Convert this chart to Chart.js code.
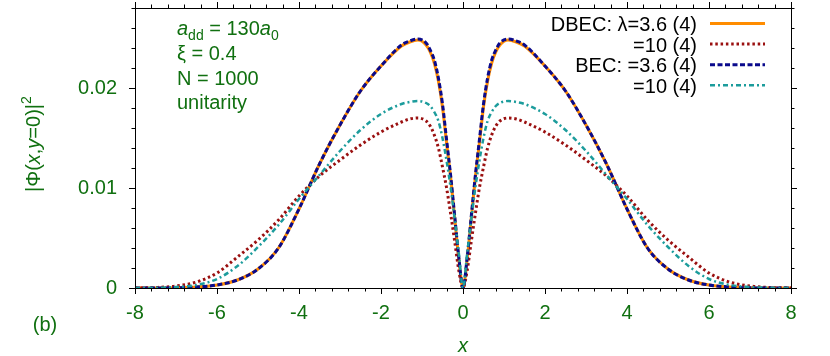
<!DOCTYPE html>
<html>
<head>
<meta charset="utf-8">
<script src="https://cdn.jsdelivr.net/npm/chart.js@4.4.1/dist/chart.umd.min.js"></script>
<style>
  html, body { margin: 0; padding: 0; background: #fff; }
</style>
</head>
<body>
<canvas id="densityChart" width="830" height="356"></canvas>
<script>
// x positions along the cut y=0
const xs = [-8, -7.5, -7, -6.5, -6, -5.5, -5, -4.5, -4, -3.5, -3, -2.5, -2, -1.5, -1.3, -1.1, -0.9, -0.8, -0.7, -0.6, -0.5, -0.4, -0.3, -0.2, -0.1,
            0,
            0.1, 0.2, 0.3, 0.4, 0.5, 0.6, 0.7, 0.8, 0.9, 1.1, 1.3, 1.5, 2, 2.5, 3, 3.5, 4, 4.5, 5, 5.5, 6, 6.5, 7, 7.5, 8];

// |Phi(x,y=0)|^2
const dbec36 = [0, 0, 0.00002, 0.0001, 0.0003, 0.0008, 0.0019, 0.0040, 0.0079, 0.0124, 0.0163, 0.0197, 0.0222, 0.0242, 0.0246, 0.0248, 0.0243, 0.0236, 0.0225, 0.0207, 0.0181, 0.0145, 0.0110, 0.0069, 0.0028,
                0,
                0.0028, 0.0069, 0.0110, 0.0145, 0.0181, 0.0207, 0.0225, 0.0236, 0.0243, 0.0248, 0.0246, 0.0242, 0.0222, 0.0197, 0.0163, 0.0124, 0.0079, 0.0040, 0.0019, 0.0008, 0.0003, 0.0001, 0.00002, 0, 0];
const dbec10 = [0, 0.00005, 0.0002, 0.0006, 0.0015, 0.0031, 0.0048, 0.0068, 0.0092, 0.0112, 0.0128, 0.0143, 0.0156, 0.0166, 0.0169, 0.0170, 0.0167, 0.0162, 0.0153, 0.0140, 0.0121, 0.0100, 0.0074, 0.0046, 0.0017,
                0,
                0.0017, 0.0046, 0.0074, 0.0100, 0.0121, 0.0140, 0.0153, 0.0162, 0.0167, 0.0170, 0.0169, 0.0166, 0.0156, 0.0143, 0.0128, 0.0112, 0.0092, 0.0068, 0.0048, 0.0031, 0.0015, 0.0006, 0.0002, 0.00005, 0];
const bec36 = [0, 0, 0.00002, 0.0001, 0.0003, 0.0008, 0.0019, 0.0040, 0.0079, 0.0124, 0.0163, 0.0197, 0.0222, 0.0243, 0.0247, 0.0249, 0.0245, 0.0238, 0.0228, 0.0210, 0.0184, 0.0148, 0.0112, 0.0071, 0.0030,
               0,
               0.0030, 0.0071, 0.0112, 0.0148, 0.0184, 0.0210, 0.0228, 0.0238, 0.0245, 0.0249, 0.0247, 0.0243, 0.0222, 0.0197, 0.0163, 0.0124, 0.0079, 0.0040, 0.0019, 0.0008, 0.0003, 0.0001, 0.00002, 0, 0];
const bec10 = [0, 0.00002, 0.0001, 0.0003, 0.0009, 0.0022, 0.0041, 0.0063, 0.0089, 0.0113, 0.0137, 0.0158, 0.0174, 0.0184, 0.0186, 0.0187, 0.0185, 0.0182, 0.0176, 0.0167, 0.0150, 0.0127, 0.0100, 0.0068, 0.0034,
               0,
               0.0034, 0.0068, 0.0100, 0.0127, 0.0150, 0.0167, 0.0176, 0.0182, 0.0185, 0.0187, 0.0186, 0.0184, 0.0174, 0.0158, 0.0137, 0.0113, 0.0089, 0.0063, 0.0041, 0.0022, 0.0009, 0.0003, 0.0001, 0.00002, 0];

const labels = ['DBEC: \u03bb=3.6 (4)', '=10 (4)', 'BEC: =3.6 (4)', '=10 (4)'];
const xTicks = [-8, -6, -4, -2, 0, 2, 4, 6, 8];
const yTicks = [0, 0.01, 0.02];
const notes = ['\u03be = 0.4', 'N = 1000', 'unitarity'];

const green = '#107010';
const FONT = '"Liberation Sans", Arial, sans-serif';

function pts(ys) {
    return xs.map((x, i) => ({ x: x, y: ys[i] }));
}

// draw a list of text pieces in a row, left to right
function rich(ctx, segs, x, y) {
    let cx = x;
    segs.forEach(s => {
        ctx.font = s.font;
        ctx.fillText(s.t, cx, y + (s.dy || 0));
        cx += ctx.measureText(s.t).width;
    });
    return cx - x;
}
function richWidth(ctx, segs) {
    let w = 0;
    segs.forEach(s => { ctx.font = s.font; w += ctx.measureText(s.t).width; });
    return w;
}

const frame = {
    id: 'frame',
    afterDraw(chart) {
        const { ctx, chartArea: a, scales: { x, y } } = chart;
        ctx.save();
        ctx.strokeStyle = '#000';
        ctx.lineWidth = 1;
        ctx.strokeRect(a.left + 0.5, a.top + 0.5, a.right - a.left, a.bottom - a.top);

        ctx.beginPath();
        // x ticks, bottom and mirrored on top
        for (let k = 0; k <= 40; k++) {
            const v = -8 + k * 0.4;
            const p = Math.round(x.getPixelForValue(v)) + 0.5;
            const len = (k % 5 === 0) ? 6 : 3.5;
            ctx.moveTo(p, a.bottom); ctx.lineTo(p, a.bottom + len);
            ctx.moveTo(p, a.top); ctx.lineTo(p, a.top - len);
        }
        // y ticks, left and mirrored on right
        for (let k = 0; k <= 14; k++) {
            const v = k * 0.002;
            const p = Math.round(y.getPixelForValue(v)) + 0.5;
            const len = (k % 5 === 0) ? 6 : 3.5;
            ctx.moveTo(a.left, p); ctx.lineTo(a.left - len, p);
            ctx.moveTo(a.right, p); ctx.lineTo(a.right + len, p);
        }
        ctx.stroke();

        // legend, text right aligned before the sample line
        ctx.textBaseline = 'alphabetic';
        chart.data.datasets.forEach((ds, i) => {
            const row = 23.5 + i * 20.6;
            ctx.font = '20px ' + FONT;
            ctx.fillStyle = '#000';
            ctx.textAlign = 'right';
            ctx.fillText(ds.label, a.left + 562, row + 7.5);
            ctx.beginPath();
            ctx.strokeStyle = ds.borderColor;
            ctx.lineWidth = ds.borderWidth;
            ctx.setLineDash(ds.borderDash || []);
            ctx.moveTo(a.left + 575, row);
            ctx.lineTo(a.left + 630, row);
            ctx.stroke();
            ctx.setLineDash([]);
        });

        // parameters
        ctx.textAlign = 'left';
        ctx.fillStyle = green;
        const it = 'italic 20px ' + FONT, nm = '20px ' + FONT, sb = '14px ' + FONT;
        rich(ctx, [
            { t: 'a', font: it }, { t: 'dd', font: sb, dy: 5 },
            { t: ' = 130', font: nm }, { t: 'a', font: it }, { t: '0', font: sb, dy: 5 }
        ], 177, 35);
        notes.forEach((n, i) => {
            ctx.font = nm;
            ctx.fillText(n, 177, 60 + i * 24.6);
        });

        // axis titles
        ctx.font = it;
        ctx.textAlign = 'center';
        ctx.fillText('x', (a.left + a.right) / 2, 352);

        ctx.font = nm;
        ctx.fillText('(b)', 45, 331);

        ctx.save();
        ctx.translate(40, 148);
        ctx.rotate(-Math.PI / 2);
        ctx.textAlign = 'left';
        const base = [
            { t: '|\u03a6(', font: nm }, { t: 'x', font: it }, { t: ',', font: nm },
            { t: 'y', font: it }, { t: '=0)|', font: nm }
        ];
        const w = richWidth(ctx, base);
        rich(ctx, base.concat([{ t: '2', font: sb, dy: -9 }]), -w / 2, 0);
        ctx.restore();

        ctx.restore();
    }
};

new Chart(document.getElementById('densityChart'), {
    type: 'line',
    data: {
        datasets: [
            {
                label: labels[0],
                data: pts(dbec36),
                borderColor: '#ff8c00',
                borderWidth: 3,
                order: 4
            },
            {
                label: labels[1],
                data: pts(dbec10),
                borderColor: '#9a1010',
                borderWidth: 3,
                borderDash: [2.5, 2.8],
                order: 3
            },
            {
                label: labels[2],
                data: pts(bec36),
                borderColor: '#0a0a8c',
                borderWidth: 3,
                borderDash: [5, 2.5],
                order: 2
            },
            {
                label: labels[3],
                data: pts(bec10),
                borderColor: '#1c9c9c',
                borderWidth: 2.5,
                borderDash: [5, 3, 2, 3],
                order: 1
            }
        ]
    },
    options: {
        responsive: false,
        animation: false,
        parsing: false,
        layout: { padding: { top: 8, right: 39, left: 0, bottom: 0 } },
        elements: {
            point: { radius: 0 },
            line: { cubicInterpolationMode: 'monotone', fill: false, borderCapStyle: 'butt' }
        },
        plugins: {
            legend: { display: false },
            tooltip: { enabled: false }
        },
        scales: {
            x: {
                type: 'linear',
                min: -8,
                max: 8,
                afterFit: s => { s.height = 68; s.paddingLeft = 0; s.paddingRight = 0; },
                afterBuildTicks: s => { s.ticks = xTicks.map(v => ({ value: v })); },
                grid: { display: false, drawTicks: false },
                border: { display: false },
                ticks: {
                    padding: 13,
                    color: green,
                    font: { family: FONT, size: 20 },
                    maxRotation: 0,
                    callback: v => String(v)
                }
            },
            y: {
                type: 'linear',
                min: 0,
                max: 0.028,
                afterFit: s => { s.width = 135; s.paddingTop = 0; s.paddingBottom = 0; },
                afterBuildTicks: s => { s.ticks = yTicks.map(v => ({ value: v })); },
                grid: { display: false, drawTicks: false },
                border: { display: false },
                ticks: {
                    padding: 18,
                    color: green,
                    font: { family: FONT, size: 20 },
                    callback: v => v === 0 ? '0' : v.toFixed(2)
                }
            }
        }
    },
    plugins: [frame]
});
</script>
</body>
</html>
